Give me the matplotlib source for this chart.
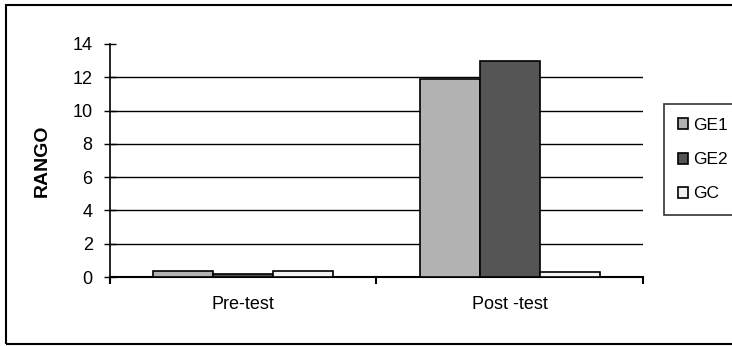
import matplotlib.pyplot as plt
import numpy as np
from matplotlib.patches import Rectangle

plt.rcParams['font.family'] = ['Liberation Sans', 'DejaVu Sans']

# Values
categories = ["Pre-test", "Post -test"]
series_names = ["GE1", "GE2", "GC"]
ge1 = [0.35, 11.9]
ge2 = [0.2, 13.0]
gc = [0.35, 0.3]
colors = ["#b2b2b2", "#555555", "#f2f2f2"]

fig = plt.figure(figsize=(7.32, 3.46), dpi=100)
ax = fig.add_axes([0.1503, 0.1994, 0.728, 0.6736])

x = np.arange(len(categories))
width = 0.225
for i, (vals, name) in enumerate(zip([ge1, ge2, gc], series_names)):
    ax.bar(x + (i - 1) * width, vals, width, color=colors[i], edgecolor="black",
           linewidth=1.2, label=name, zorder=3)

ax.set_xlim(-0.5, 1.5)
ax.set_ylim(0, 14)
ax.set_yticks(range(0, 15, 2))
ax.tick_params(axis="y", direction="inout", length=9, width=1, labelsize=13, pad=8)
ax.yaxis.grid(True, color="black", linewidth=1)
ax.get_ygridlines()[-1].set_visible(False)
ax.set_axisbelow(True)

ax.set_xticks(x)
ax.set_xticklabels(categories)
ax.tick_params(axis="x", length=0, labelsize=13, pad=14)
ax.set_xticks([-0.5, 0.5, 1.5], minor=True)
ax.tick_params(axis="x", which="minor", direction="out", length=5, width=1.5)

for s in ["top", "right"]:
    ax.spines[s].set_visible(False)
ax.spines["left"].set_linewidth(1.2)
ax.spines["bottom"].set_linewidth(1.5)

ax.set_ylabel("RANGO", fontsize=14, fontweight="bold", labelpad=16)

leg = fig.legend(loc="upper left", bbox_to_anchor=(0.907, 0.699), borderaxespad=0,
                 fontsize=12.5, frameon=True, fancybox=False, edgecolor="black",
                 handlelength=0.6, handleheight=0.6, handletextpad=0.3,
                 labelspacing=1.1, borderpad=0.8)
leg.get_frame().set_linewidth(1.2)

fig.patches.append(Rectangle((6 / 732, 2 / 346), 1.0, 1 - 7 / 346,
                             transform=fig.transFigure, fill=False,
                             edgecolor="black", linewidth=1.5))

fig.savefig("out.png", dpi=100)
